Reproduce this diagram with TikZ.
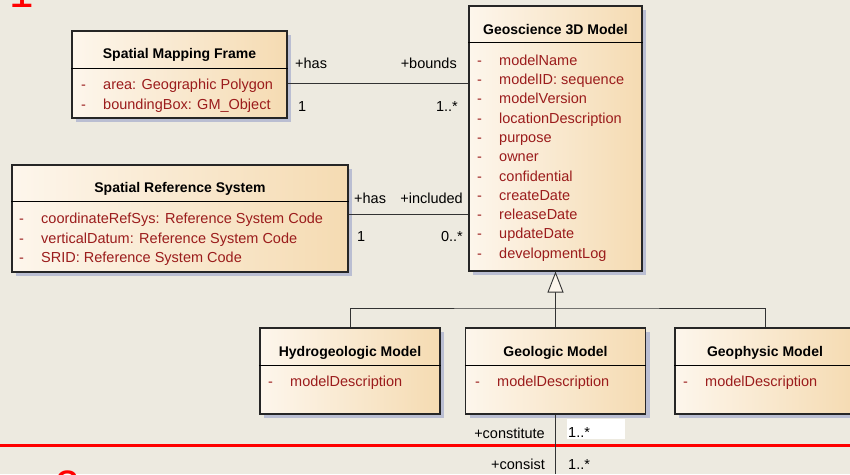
\documentclass[tikz,border=0pt]{standalone}
\usepackage{fontspec}
\setmainfont{Liberation Sans}
\usetikzlibrary{shadows,arrows.meta}

\definecolor{paper}{RGB}{237,234,224}
\definecolor{boxlight}{RGB}{253,246,236}
\definecolor{boxdark}{RGB}{245,219,178}
\definecolor{attrred}{RGB}{155,28,28}
\definecolor{shade}{RGB}{186,190,210}

\begin{document}
\begin{tikzpicture}[x=1pt, y=-1pt, font=\fontsize{14.5}{17}\selectfont,
  cls/.style={draw=black!85, line width=1.1pt, left color=boxlight, right color=boxdark,
    general shadow={draw=none, fill=shade, shadow xshift=4pt, shadow yshift=-4pt}},
  clstitle/.style={anchor=base, inner sep=0pt, font=\fontsize{14}{17}\selectfont\bfseries},
  attr/.style={anchor=base west, inner sep=0pt, text=attrred,
    execute at begin node={\makebox[22pt][l]{-}}},
  rolelabel/.style={inner sep=0pt},
  link/.style={draw=black!80, line width=0.9pt}]
  \useasboundingbox (0,0) rectangle (850,474);
  \fill[paper] (0,0) rectangle (850,474);
  \clip (0,0) rectangle (850,474);

  % section numbers and divider
  \node(sec1)[anchor=base west, inner sep=0pt, text=red, font=\fontsize{44}{44}\selectfont] at (9.5,7) {1};
  \node(sec2)[anchor=base west, inner sep=0pt, text=red, font=\fontsize{44}{44}\selectfont] at (55,501) {2};
  \draw[red, line width=3pt] (0,445) -- (850,445);

  % Spatial Mapping Frame
  \node(smf)[cls, minimum width=215pt, minimum height=87pt] at (179.5,74.5) {};
  \draw[line width=1.1pt] ([yshift=-38pt]smf.north west) -- ([yshift=-38pt]smf.north east);
  \node(smft)[clstitle] at (179.5,58.5) {Spatial Mapping Frame};
  \node(smfa1)[attr] at (81,89) {area: Geographic Polygon};
  \node(smfa2)[attr] at (81,109) {boundingBox: GM\_Object};

  % Geoscience 3D Model
  \node(g3d)[cls, minimum width=173pt, minimum height=265pt] at (555.5,138.5) {};
  \draw[line width=1.1pt] ([yshift=-37pt]g3d.north west) -- ([yshift=-37pt]g3d.north east);
  \node(g3dt)[clstitle] at (555.5,34) {Geoscience 3D Model};
  \node(g3da1)[attr] at (477,65) {modelName};
  \node(g3da2)[attr] at (477,84) {modelID: sequence};
  \node(g3da3)[attr] at (477,103) {modelVersion};
  \node(g3da4)[attr] at (477,123) {locationDescription};
  \node(g3da5)[attr] at (477,142) {purpose};
  \node(g3da6)[attr] at (477,161) {owner};
  \node(g3da7)[attr] at (477,181) {confidential};
  \node(g3da8)[attr] at (477,200) {createDate};
  \node(g3da9)[attr] at (477,219) {releaseDate};
  \node(g3da10)[attr] at (477,238) {updateDate};
  \node(g3da11)[attr] at (477,258) {developmentLog};

  % Spatial Reference System
  \node(srs)[cls, minimum width=336pt, minimum height=107pt] at (180,218.5) {};
  \draw[line width=1.1pt] ([yshift=-37pt]srs.north west) -- ([yshift=-37pt]srs.north east);
  \node(srst)[clstitle] at (180,192) {Spatial Reference System};
  \node(srsa1)[attr] at (19,223) {coordinateRefSys: Reference System Code};
  \node(srsa2)[attr] at (19,243) {verticalDatum: Reference System Code};
  \node(srsa3)[attr] at (19,262) {SRID: Reference System Code};

  % specialised models
  \node(hydro)[cls, minimum width=180pt, minimum height=86pt] at (350,371) {};
  \draw[line width=1.1pt] ([yshift=-38pt]hydro.north west) -- ([yshift=-38pt]hydro.north east);
  \node(hydrot)[clstitle] at (350,356) {Hydrogeologic Model};
  \node(hydroa1)[attr] at (268,386) {modelDescription};

  \node(geo)[cls, minimum width=180pt, minimum height=86pt] at (555.5,371) {};
  \draw[line width=1.1pt] ([yshift=-38pt]geo.north west) -- ([yshift=-38pt]geo.north east);
  \node(geot)[clstitle] at (555.5,356) {Geologic Model};
  \node(geoa1)[attr] at (475,386) {modelDescription};

  \node(geoph)[cls, minimum width=180pt, minimum height=86pt] at (765,371) {};
  \draw[line width=1.1pt] ([yshift=-38pt]geoph.north west) -- ([yshift=-38pt]geoph.north east);
  \node(geopht)[clstitle] at (765,356) {Geophysic Model};
  \node(geopha1)[attr] at (683,386) {modelDescription};

  % associations
  \draw[link] ([yshift=-8.5pt]smf.east) -- ([yshift=-8.5pt]smf.east -| g3d.west);
  \node(r1a)[rolelabel, anchor=base west] at (295,68) {+has};
  \node(r1b)[rolelabel, anchor=base east] at (457,68) {+bounds};
  \node(m1a)[rolelabel, anchor=base west] at (298,111) {1};
  \node(m1b)[rolelabel, anchor=base east] at (458,111) {1..*};

  \draw[link] ([yshift=4.5pt]srs.east) -- ([yshift=4.5pt]srs.east -| g3d.west);
  \node(r2a)[rolelabel, anchor=base west] at (354,203) {+has};
  \node(r2b)[rolelabel, anchor=base east] at (463,203) {+included};
  \node(m2a)[rolelabel, anchor=base west] at (357,241) {1};
  \node(m2b)[rolelabel, anchor=base east] at (463,241) {0..*};

  % generalisation
  \coordinate (junc) at (555.5,308);
  \draw[link] (hydro.north) |- (junc) -| (geoph.north);
  \draw[link] (geo.north) -- (junc);
  \draw[link, -{Triangle[length=21pt, width=16pt, fill=boxlight]}] (junc) -- (g3d.south);

  % link to section 2
  \coordinate (cut) at (555.5,474);
  \draw[link] (geo.south) -- (cut);
  \node(r3a)[rolelabel, anchor=base east] at (545,438) {+constitute};
  \node(m3a)[rolelabel, anchor=base west, fill=white, inner xsep=1pt, inner ysep=1.5pt,
    text width=56pt, text height=16.5pt, text depth=0pt] at (567,437) {1..*};
  \node(r4a)[rolelabel, anchor=base east] at (545,469) {+consist};
  \node(m4a)[rolelabel, anchor=base west] at (568,469) {1..*};
\end{tikzpicture}
\end{document}
